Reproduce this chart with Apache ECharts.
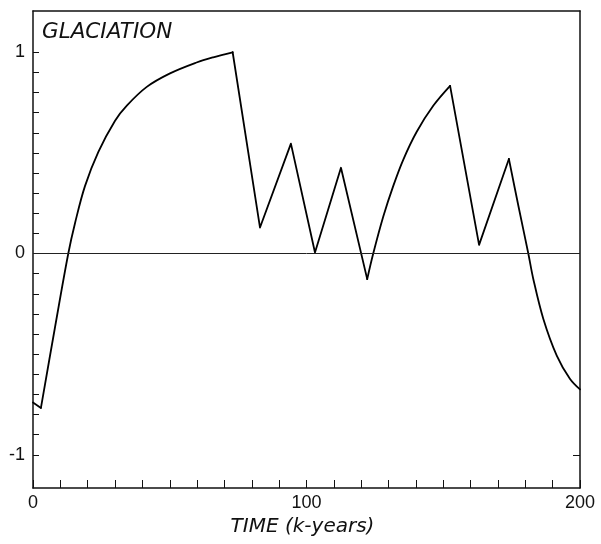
<!DOCTYPE html>
<html>
<head>
<meta charset="utf-8">
<script src="https://cdn.jsdelivr.net/npm/echarts@6/dist/echarts.min.js"></script>
<style>
  html, body { margin: 0; padding: 0; background: #fff; }
  #chart { width: 601px; height: 544px; }
</style>
</head>
<body>
<div id="chart"></div>
<script>
// Glaciation index over time (thousands of years)
const timeKyr = [
  0, 2.9,
  8, 12.9, 15.4, 19.0, 23.9, 30.0, 34.3, 41.6, 50.1, 59.8, 65.9, 73,
  83, 94.3, 103.1, 112.6, 122.2,
  124.4, 128.1, 131.7, 135.4, 140.3, 146.4, 152.5,
  163.1, 174.0,
  177.5, 181.1, 182.9, 186.6, 191.5, 196.3, 200
];
const glaciation = [
  -0.74, -0.767,
  -0.37, 0, 0.153, 0.335, 0.505, 0.66, 0.735, 0.828, 0.895, 0.949, 0.975, 1.0,
  0.129, 0.546, 0.005, 0.426, -0.127,
  0, 0.185, 0.335, 0.467, 0.605, 0.735, 0.833,
  0.043, 0.47,
  0.235, 0, -0.125, -0.325, -0.507, -0.622, -0.675
];

// Pieces of the curve: [first index, last index, smooth?]
// Growth / decay phases are smooth, the rapid melt and regrowth phases are straight.
const curvePieces = [
  [0, 1, false],
  [1, 13, true],
  [13, 18, false],
  [18, 25, true],
  [25, 27, false],
  [27, 34, true]
];

// Axis ticks and labels
const yTickValues = [-1, -0.9, -0.8, -0.7, -0.6, -0.5, -0.4, -0.3, -0.2, -0.1, 0,
  0.1, 0.2, 0.3, 0.4, 0.5, 0.6, 0.7, 0.8, 0.9, 1];
const yLabelValues = [-1, 0, 1];
const xLabelValues = [0, 100, 200];
const rightTickValues = [-1];

const Y_MIN = -1.165, Y_MAX = 1.205;
const INK = '#111';
const labelFont = { color: INK, fontFamily: '"Liberation Sans", Arial, sans-serif', fontSize: 18 };

const chart = echarts.init(document.getElementById('chart'), null, { renderer: 'canvas' });

const curveSeries = curvePieces.map(([a, b, smooth], k) => {
  const pts = [];
  for (let i = a; i <= b; i++) pts.push([timeKyr[i], glaciation[i]]);
  const s = {
    type: 'line',
    xAxisIndex: 0,
    yAxisIndex: 0,
    data: pts,
    showSymbol: false,
    smooth: smooth ? 0.35 : false,
    lineStyle: { color: '#000', width: 1.8, join: 'round', cap: 'round' },
    z: 3
  };
  if (k === 0) {
    s.markLine = {
      silent: true,
      symbol: ['none', 'none'],
      label: { show: false },
      lineStyle: { color: '#222', width: 1, type: 'solid' },
      data: [{ yAxis: 0 }]
    };
  }
  return s;
});

chart.setOption({
  animation: false,
  backgroundColor: '#fff',
  title: {
    text: 'GLACIATION',
    left: 42,
    top: 21,
    padding: 0,
    textStyle: {
      fontFamily: '"DejaVu Sans", sans-serif',
      fontStyle: 'italic',
      fontWeight: 'normal',
      fontSize: 21.5,
      color: INK
    }
  },
  grid: { left: 33, right: 21, top: 11, bottom: 56, containLabel: false },
  xAxis: [
    {
      type: 'value',
      min: 0,
      max: 200,
      interval: 10,
      position: 'bottom',
      axisLine: { show: true, onZero: false, lineStyle: { color: INK, width: 1.5 } },
      axisTick: { show: true, inside: true, length: 8, lineStyle: { color: INK, width: 1 } },
      axisLabel: {
        ...labelFont,
        margin: 6,
        showMinLabel: true,
        showMaxLabel: true,
        formatter: v => (xLabelValues.indexOf(v) >= 0 ? String(v) : '')
      },
      splitLine: { show: false },
      name: 'TIME (k-years)',
      nameLocation: 'middle',
      nameGap: 28,
      nameTextStyle: {
        fontFamily: '"DejaVu Sans", sans-serif',
        fontStyle: 'italic',
        fontSize: 20,
        color: INK,
        padding: [0, 8, 0, 0]
      }
    },
    {
      type: 'value',
      min: 0,
      max: 200,
      position: 'top',
      axisLine: { show: true, onZero: false, lineStyle: { color: INK, width: 1.5 } },
      axisTick: { show: false },
      axisLabel: { show: false },
      splitLine: { show: false }
    }
  ],
  yAxis: [
    {
      type: 'value',
      min: Y_MIN,
      max: Y_MAX,
      position: 'left',
      axisLine: { show: true, onZero: false, lineStyle: { color: INK, width: 1.5 } },
      axisTick: { show: true, inside: true, length: 6, customValues: yTickValues, lineStyle: { color: INK, width: 1 } },
      axisLabel: { ...labelFont, margin: 8, customValues: yLabelValues, formatter: v => String(v) },
      splitLine: { show: false }
    },
    {
      type: 'value',
      min: Y_MIN,
      max: Y_MAX,
      position: 'right',
      axisLine: { show: true, onZero: false, lineStyle: { color: INK, width: 1.5 } },
      axisTick: { show: true, inside: true, length: 7, customValues: rightTickValues, lineStyle: { color: INK, width: 1 } },
      axisLabel: { show: false },
      splitLine: { show: false }
    }
  ],
  series: curveSeries
});
</script>
</body>
</html>
